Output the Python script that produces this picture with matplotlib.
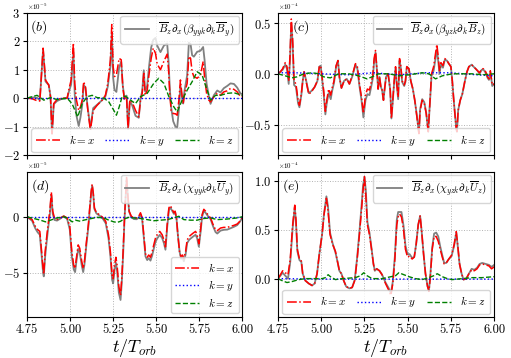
"""
Components of the turbulent transport terms vs time, four panels
"""

import matplotlib
matplotlib.use('Agg')
import matplotlib.pyplot as plt

plt.rcParams['mathtext.fontset'] = 'cm'
plt.rcParams['font.family'] = 'serif'
plt.rcParams['font.serif'] = ['cmr10', 'DejaVu Serif']
plt.rcParams['axes.formatter.use_mathtext'] = True

# ---- panel (b), units 1e-5 ----
t_b = [4.750, 4.779, 4.808, 4.824, 4.843, 4.857, 4.876, 4.886, 4.895, 4.905,
       4.924, 4.953, 4.983, 4.992, 5.006, 5.019, 5.027, 5.037, 5.050, 5.060,
       5.070, 5.079, 5.089, 5.103, 5.118, 5.134, 5.157, 5.186, 5.205, 5.219,
       5.234, 5.242, 5.250, 5.258, 5.269, 5.285, 5.297, 5.306, 5.316, 5.328,
       5.337, 5.347, 5.360, 5.380, 5.399, 5.409, 5.419, 5.428, 5.436, 5.448,
       5.457, 5.471, 5.483, 5.496, 5.506, 5.525, 5.545, 5.564, 5.572, 5.579,
       5.587, 5.599, 5.612, 5.622, 5.632, 5.641, 5.651, 5.657, 5.665, 5.680,
       5.690, 5.700, 5.709, 5.719, 5.738, 5.758, 5.773, 5.781, 5.793, 5.806,
       5.816, 5.835, 5.855, 5.874, 5.893, 5.913, 5.932, 5.952, 5.971, 5.990,
       6.000]
b_x = [0.00, -0.02, -0.09, -0.10, 1.76, 0.64, 0.46, 0.05, -1.25, -0.19,
       -0.05, 0.00, 0.00, 0.28, 0.64, 1.94, 0.52, -0.07, -0.43, -0.31,
       -0.07, 0.58, 0.40, -0.43, -1.13, -0.43, -0.25, -0.07, 0.10, 0.52,
       1.35, 2.59, 1.11, 0.76, 0.82, 1.40, 1.35, 0.40, -0.07, 0.05,
       -1.08, -0.07, -0.13, -0.43, -0.66, -0.07, 0.17, 0.87, 0.10, 0.28,
       0.76, 1.40, 1.76, 1.58, 1.20, 1.00, 1.30, 1.55, 1.00, 0.17,
       -0.43, -0.54, -0.55, -0.60, -0.07, 0.64, 0.05, -0.19, 0.17, 0.52,
       1.47, 1.40, 0.93, 0.76, 0.70, 0.82, 1.29, 0.76, 0.17, -0.07,
       -0.13, 0.05, 0.17, 0.10, 0.22, 0.26, 0.34, 0.31, 0.22, 0.05,
       0.05]
b_tot = [0.00, 0.03, 0.01, -0.07, 1.70, 0.59, 0.46, 0.07, -1.25, -0.21,
         -0.10, -0.02, 0.00, 0.21, 0.48, 1.62, 0.11, -0.62, -0.98, -0.68,
         -0.26, 0.47, 0.37, -0.37, -1.05, -0.35, -0.23, -0.07, 0.06, 0.41,
         1.12, 2.28, 0.72, 0.29, 0.22, 1.09, 1.28, 0.45, -0.01, 0.09,
         -1.08, -0.12, -0.24, -0.62, -0.69, -0.02, 0.25, 0.98, 0.23, 0.45,
         1.02, 1.78, 2.05, 2.12, 1.85, 1.62, 1.85, 1.92, 1.30, 0.37,
         -0.32, -0.81, -1.00, -1.05, -0.41, 0.44, -0.02, -0.19, 0.27, 0.80,
         1.95, 1.90, 1.51, 1.46, 1.63, 1.67, 1.80, 1.36, 0.51, 0.08,
         -0.20, 0.10, 0.27, 0.20, 0.35, 0.43, 0.52, 0.50, 0.37, 0.16,
         0.15]
t_bz = [4.750, 4.808, 4.847, 4.886, 4.924, 4.983, 5.012, 5.044, 5.070, 5.099,
        5.128, 5.157, 5.196, 5.225, 5.254, 5.269, 5.285, 5.302, 5.322, 5.351,
        5.380, 5.409, 5.448, 5.486, 5.515, 5.545, 5.574, 5.603, 5.622, 5.651,
        5.680, 5.709, 5.738, 5.767, 5.793, 5.816, 5.845, 5.874, 5.913, 5.952,
        6.000]
b_z = [0.00, 0.10, -0.07, 0.02, -0.05, 0.00, -0.20, -0.66, -0.19, 0.05,
       0.10, 0.02, 0.00, -0.13, -0.43, -0.60, -0.31, 0.05, 0.07, -0.07,
       -0.19, 0.05, 0.17, 0.52, 0.70, 0.52, 0.05, -0.31, -0.48, -0.07,
       0.28, 0.58, 0.93, 0.81, 0.34, -0.07, 0.10, 0.10, 0.17, 0.19,
       0.10]
t_by = [4.75, 5.0, 5.25, 5.5, 5.75, 6.0]
b_y = [0.0, 0.0, 0.0, 0.0, 0.0, 0.0]

# ---- panel (c), units 1e-4 ----
t_c = [4.750, 4.764, 4.777, 4.792, 4.802, 4.812, 4.819, 4.827, 4.835, 4.843,
       4.854, 4.866, 4.874, 4.885, 4.893, 4.901, 4.912, 4.928, 4.943, 4.962,
       4.978, 4.989, 4.997, 5.005, 5.014, 5.024, 5.032, 5.043, 5.055, 5.063,
       5.074, 5.086, 5.097, 5.105, 5.117, 5.132, 5.148, 5.163, 5.179, 5.198,
       5.209, 5.221, 5.233, 5.244, 5.256, 5.267, 5.279, 5.291, 5.298, 5.306,
       5.314, 5.321, 5.329, 5.337, 5.345, 5.352, 5.360, 5.368, 5.375, 5.387,
       5.399, 5.406, 5.414, 5.422, 5.430, 5.437, 5.445, 5.453, 5.460, 5.468,
       5.480, 5.487, 5.495, 5.507, 5.518, 5.530, 5.541, 5.553, 5.565, 5.572,
       5.584, 5.596, 5.607, 5.619, 5.626, 5.638, 5.650, 5.661, 5.669, 5.677,
       5.684, 5.692, 5.704, 5.715, 5.727, 5.738, 5.750, 5.758, 5.765, 5.773,
       5.781, 5.785, 5.792, 5.804, 5.816, 5.831, 5.843, 5.854, 5.870, 5.881,
       5.893, 5.904, 5.916, 5.928, 5.939, 5.951, 5.962, 5.970, 5.978, 5.989,
       6.000]
c_x = [0.00, 0.02, 0.05, 0.11, 0.07, -0.07, 0.16, 0.54, 0.33, -0.07,
       -0.10, -0.26, -0.31, -0.20, -0.07, 0.02, -0.07, -0.20, -0.18, -0.13,
       -0.07, 0.07, 0.08, -0.03, -0.16, -0.37, -0.26, -0.15, -0.21, -0.14,
       -0.07, 0.08, 0.13, -0.03, -0.14, -0.07, -0.05, -0.10, -0.02, 0.10,
       0.07, -0.10, -0.23, -0.39, -0.21, -0.15, -0.16, -0.07, -0.02, 0.15,
       0.23, 0.07, -0.15, -0.03, -0.13, -0.16, -0.26, -0.13, -0.03, 0.00,
       -0.16, -0.44, -0.26, -0.07, 0.07, -0.10, -0.23, 0.15, 0.08, -0.07,
       -0.11, -0.07, 0.07, 0.05, -0.07, -0.15, -0.26, -0.42, -0.59, -0.36,
       -0.26, -0.29, -0.39, -0.57, -0.36, 0.00, 0.07, 0.20, 0.29, 0.16,
       0.03, 0.11, 0.08, 0.15, 0.13, 0.10, 0.07, -0.07, -0.23, -0.39,
       -0.54, -0.57, -0.36, -0.26, -0.20, -0.07, 0.02, 0.07, 0.09, 0.07,
       0.05, 0.03, 0.01, 0.05, 0.05, 0.02, -0.03, -0.05, 0.03, -0.11,
       -0.10]
c_tot = [0.00, 0.02, 0.04, 0.09, 0.05, -0.10, 0.12, 0.50, 0.29, -0.11,
         -0.13, -0.29, -0.33, -0.21, -0.07, 0.02, -0.06, -0.19, -0.17, -0.13,
         -0.07, 0.07, 0.08, -0.05, -0.19, -0.40, -0.29, -0.19, -0.25, -0.17,
         -0.09, 0.07, 0.13, -0.03, -0.14, -0.07, -0.05, -0.10, -0.03, 0.09,
         0.05, -0.12, -0.26, -0.43, -0.26, -0.20, -0.21, -0.11, -0.05, 0.12,
         0.21, 0.06, -0.15, -0.03, -0.13, -0.16, -0.26, -0.13, -0.03, 0.00,
         -0.16, -0.44, -0.27, -0.08, 0.06, -0.11, -0.25, 0.13, 0.06, -0.08,
         -0.12, -0.08, 0.07, 0.05, -0.07, -0.15, -0.26, -0.41, -0.58, -0.35,
         -0.25, -0.28, -0.38, -0.57, -0.36, -0.02, 0.03, 0.15, 0.24, 0.12,
         0.00, 0.09, 0.06, 0.14, 0.13, 0.10, 0.07, -0.07, -0.23, -0.39,
         -0.54, -0.57, -0.36, -0.26, -0.20, -0.07, 0.02, 0.07, 0.09, 0.07,
         0.05, 0.03, 0.00, 0.04, 0.04, 0.01, -0.04, -0.06, 0.02, -0.12,
         -0.10]
t_cz = [4.750, 4.792, 4.831, 4.860, 4.899, 4.947, 4.986, 5.014, 5.053, 5.101,
        5.159, 5.217, 5.265, 5.294, 5.333, 5.391, 5.449, 5.507, 5.584, 5.623,
        5.661, 5.700, 5.758, 5.816, 5.873, 5.931, 6.000]
c_z = [0.00, -0.02, -0.04, -0.03, 0.00, 0.01, 0.00, -0.03, -0.04, 0.00,
       0.00, -0.02, -0.05, -0.03, 0.00, 0.00, -0.02, -0.01, 0.01, 0.00,
       -0.05, -0.02, 0.00, 0.00, 0.00, -0.01, 0.00]
t_cy = [4.75, 4.85, 5.0, 5.15, 5.3, 5.45, 5.6, 5.75, 5.9, 6.0]
c_y = [0.01, 0.01, 0.0, -0.01, 0.01, -0.01, 0.01, 0.01, -0.01, -0.02]

# ---- panel (d), units 1e-5 ----
t_d = [4.750, 4.779, 4.798, 4.812, 4.824, 4.831, 4.843, 4.847, 4.855, 4.862,
       4.872, 4.882, 4.891, 4.899, 4.909, 4.924, 4.944, 4.963, 4.983, 4.998,
       5.010, 5.021, 5.029, 5.037, 5.047, 5.056, 5.068, 5.076, 5.083, 5.095,
       5.107, 5.114, 5.122, 5.128, 5.134, 5.141, 5.153, 5.169, 5.188, 5.207,
       5.223, 5.234, 5.244, 5.250, 5.258, 5.266, 5.273, 5.283, 5.293, 5.300,
       5.308, 5.316, 5.322, 5.328, 5.335, 5.343, 5.355, 5.370, 5.386, 5.399,
       5.409, 5.419, 5.428, 5.438, 5.448, 5.457, 5.467, 5.477, 5.486, 5.496,
       5.506, 5.521, 5.535, 5.545, 5.554, 5.564, 5.574, 5.583, 5.593, 5.603,
       5.610, 5.618, 5.626, 5.636, 5.645, 5.653, 5.661, 5.671, 5.680, 5.692,
       5.703, 5.715, 5.729, 5.738, 5.748, 5.758, 5.767, 5.777, 5.787, 5.800,
       5.816, 5.831, 5.845, 5.855, 5.874, 5.893, 5.913, 5.932, 5.952, 5.971,
       5.986, 6.000]
d_x = [0.00, -0.24, -0.85, -1.15, -1.30, -2.50, -4.60, -5.10, -3.10, -2.06,
       -0.70, 0.50, 2.20, 0.50, -0.10, -0.24, -0.10, 0.06, -0.10, -0.85,
       -3.10, -4.30, -4.60, -3.60, -2.50, -2.80, -4.00, -4.60, -4.00, -2.20,
       -0.55, 0.80, 2.20, 2.90, 2.20, 0.80, 0.36, 0.20, -0.03, -0.40,
       -1.60, -3.10, -5.20, -5.50, -4.30, -3.60, -4.30, -6.20, -7.00, -5.50,
       -3.10, -0.10, 1.70, 3.50, 2.00, 0.50, 0.06, -0.10, -0.10, 0.06,
       0.36, -0.10, -1.60, -3.30, -3.60, -3.40, -3.60, -3.10, -2.50, -1.90,
       -1.60, -1.30, -1.60, -2.06, -2.67, -0.70, 0.80, 1.00, 0.67, 0.36,
       0.50, -0.10, -1.60, -3.10, -3.60, -3.40, -3.70, -3.10, -2.06, -1.75,
       -1.60, -1.45, -1.30, -1.60, -2.40, -1.15, 0.20, 0.67, 0.50, 0.20,
       -0.10, -0.70, -1.15, -1.24, -1.00, -0.94, -0.94, -0.85, -0.76, -0.64,
       -0.40, -0.10]
d_tot = [0.00, -0.35, -1.04, -1.39, -1.59, -2.82, -4.98, -5.30, -3.54, -2.47,
         -1.07, 0.18, 1.93, 0.27, -0.28, -0.34, -0.15, 0.06, -0.20, -1.13,
         -3.53, -4.68, -4.92, -3.92, -2.85, -3.19, -4.36, -4.92, -4.29, -2.45,
         -0.76, 0.62, 2.04, 2.76, 2.08, 0.70, 0.30, 0.13, -0.12, -0.58,
         -1.89, -3.45, -5.60, -5.93, -4.76, -4.08, -4.80, -6.72, -7.40, -5.91,
         -3.37, -0.28, 1.55, 3.38, 1.92, 0.45, -0.01, -0.20, -0.22, -0.08,
         0.21, -0.28, -1.80, -3.53, -3.85, -3.68, -3.90, -3.43, -2.85, -2.24,
         -1.93, -1.60, -1.89, -2.34, -2.93, -0.95, 0.59, 0.82, 0.53, 0.26,
         0.44, -0.12, -1.59, -3.10, -3.73, -3.60, -3.95, -3.36, -2.34, -2.04,
         -1.90, -1.75, -1.60, -1.90, -2.66, -1.38, 0.01, 0.52, 0.36, 0.08,
         -0.20, -0.86, -1.36, -1.49, -1.23, -1.16, -1.14, -1.02, -0.89, -0.74,
         -0.45, -0.10]
t_dz = [4.750, 4.789, 4.828, 4.857, 4.886, 4.924, 4.963, 4.983, 5.012, 5.031,
        5.060, 5.079, 5.109, 5.157, 5.196, 5.225, 5.254, 5.273, 5.293, 5.312,
        5.341, 5.370, 5.409, 5.448, 5.486, 5.525, 5.564, 5.603, 5.632, 5.661,
        5.700, 5.738, 5.777, 5.816, 5.855, 5.913, 5.971, 6.000]
d_z = [0.00, -0.15, -0.30, -0.45, -0.30, -0.10, 0.00, -0.10, -0.45, -0.30,
       -0.40, -0.30, -0.20, -0.05, -0.10, -0.30, -0.45, -0.50, -0.40, -0.20,
       -0.05, -0.10, -0.15, -0.25, -0.35, -0.30, -0.25, -0.10, 0.05, -0.25,
       -0.30, -0.30, -0.15, -0.10, -0.25, -0.20, -0.10, 0.00]
t_dy = [4.75, 5.0, 5.25, 5.5, 5.75, 6.0]
d_y = [0.0, 0.0, 0.0, 0.0, 0.0, 0.0]

# ---- panel (e), units 1e-4 ----
t_e = [4.750, 4.764, 4.777, 4.792, 4.808, 4.821, 4.835, 4.847, 4.854, 4.862,
       4.874, 4.885, 4.893, 4.908, 4.928, 4.947, 4.962, 4.976, 4.989, 5.005,
       5.016, 5.030, 5.039, 5.051, 5.066, 5.082, 5.097, 5.105, 5.117, 5.130,
       5.144, 5.163, 5.179, 5.194, 5.208, 5.221, 5.233, 5.242, 5.250, 5.258,
       5.267, 5.279, 5.291, 5.302, 5.310, 5.321, 5.337, 5.352, 5.372, 5.391,
       5.403, 5.414, 5.426, 5.437, 5.445, 5.453, 5.464, 5.476, 5.487, 5.499,
       5.511, 5.526, 5.538, 5.549, 5.561, 5.572, 5.580, 5.592, 5.603, 5.615,
       5.623, 5.630, 5.642, 5.653, 5.665, 5.677, 5.688, 5.700, 5.711, 5.723,
       5.738, 5.754, 5.769, 5.781, 5.789, 5.800, 5.812, 5.823, 5.839, 5.854,
       5.870, 5.885, 5.901, 5.916, 5.931, 5.951, 5.970, 5.985, 6.000]
e_x = [0.00, 0.04, 0.08, 0.06, 0.04, 0.20, 0.55, 0.75, 0.60, 0.30,
       0.20, 0.18, 0.05, -0.02, -0.05, -0.07, -0.05, 0.05, 0.25, 0.45,
       0.65, 0.82, 0.70, 0.45, 0.35, 0.28, 0.15, 0.08, 0.05, -0.02,
       -0.08, -0.10, -0.09, -0.02, 0.20, 0.45, 0.70, 0.90, 1.04, 0.85,
       0.55, 0.45, 0.30, 0.15, 0.08, 0.10, 0.08, 0.04, -0.05, -0.12,
       -0.17, -0.05, 0.20, 0.55, 0.63, 0.66, 0.63, 0.50, 0.30, 0.22,
       0.23, 0.20, 0.22, 0.35, 0.55, 0.64, 0.50, 0.25, 0.05, -0.08,
       -0.13, 0.00, 0.30, 0.43, 0.43, 0.38, 0.30, 0.22, 0.15, 0.16,
       0.20, 0.24, 0.35, 0.48, 0.35, 0.15, 0.05, -0.01, 0.00, 0.05,
       0.09, 0.08, 0.10, 0.14, 0.15, 0.14, 0.13, 0.10, 0.12]
e_tot = [0.00, 0.03, 0.06, 0.03, 0.00, 0.17, 0.52, 0.73, 0.58, 0.28,
         0.19, 0.17, 0.05, -0.02, -0.05, -0.07, -0.05, 0.05, 0.25, 0.45,
         0.66, 0.84, 0.74, 0.47, 0.36, 0.27, 0.15, 0.08, 0.05, -0.02,
         -0.08, -0.10, -0.09, -0.01, 0.22, 0.48, 0.74, 0.95, 1.04, 0.90,
         0.58, 0.47, 0.31, 0.15, 0.08, 0.10, 0.08, 0.04, -0.04, -0.10,
         -0.15, -0.03, 0.23, 0.60, 0.68, 0.68, 0.68, 0.54, 0.34, 0.25,
         0.25, 0.21, 0.22, 0.35, 0.55, 0.64, 0.50, 0.25, 0.05, -0.08,
         -0.12, 0.01, 0.32, 0.46, 0.47, 0.43, 0.33, 0.24, 0.16, 0.16,
         0.20, 0.23, 0.34, 0.47, 0.34, 0.15, 0.05, -0.01, 0.00, 0.05,
         0.10, 0.09, 0.11, 0.15, 0.16, 0.15, 0.14, 0.12, 0.14]
t_ez = [4.750, 4.773, 4.802, 4.831, 4.870, 4.908, 5.005, 5.024, 5.040, 5.053,
        5.082, 5.121, 5.198, 5.227, 5.246, 5.265, 5.294, 5.352, 5.430, 5.449,
        5.478, 5.507, 5.545, 5.584, 5.623, 5.651, 5.671, 5.700, 5.729, 5.758,
        5.816, 5.873, 5.931, 6.000]
e_z = [0.00, -0.02, -0.04, -0.03, -0.01, 0.00, 0.00, 0.01, 0.04, 0.02,
       -0.01, 0.00, 0.01, 0.03, 0.06, 0.03, 0.00, 0.00, 0.03, 0.06,
       0.04, 0.02, 0.00, -0.01, 0.01, 0.03, 0.05, 0.02, 0.00, -0.01,
       0.00, 0.01, 0.01, 0.02]
t_ey = [4.75, 5.0, 5.25, 5.5, 5.75, 6.0]
e_y = [0.0, -0.005, -0.005, -0.005, -0.005, -0.005]

xticks = [4.75, 5.00, 5.25, 5.50, 5.75, 6.00]
xticklabels = ['4.75', '5.00', '5.25', '5.50', '5.75', '6.00']

panels = [
    dict(rect=[0.053, 0.567, 0.421, 0.397], tag='(b)', tagx=0.015, expo='-5',
         ylim=(-2, 3), yticks=[-2, -1, 0, 1, 2, 3],
         yticklabels=['$-2$', '$-1$', '$0$', '$1$', '$2$', '$3$'],
         t=t_b, x=b_x, tot=b_tot, tz=t_bz, z=b_z, ty=t_by, y=b_y,
         label=r'$\overline{B}_z\partial_x(\beta_{yyk}\partial_k\overline{B}_y)$',
         low='row', bottom=False),
    dict(rect=[0.544, 0.567, 0.423, 0.397], tag='(c)', tagx=0.065, expo='-4',
         ylim=(-0.8, 0.6), yticks=[-0.5, 0.0, 0.5],
         yticklabels=['$-0.5$', '$0.0$', '$0.5$'],
         t=t_c, x=c_x, tot=c_tot, tz=t_cz, z=c_z, ty=t_cy, y=c_y,
         label=r'$\overline{B}_z\partial_x(\beta_{yzk}\partial_k\overline{B}_z)$',
         low='row', bottom=False),
    dict(rect=[0.053, 0.115, 0.421, 0.405], tag='(d)', tagx=0.02, expo='-5',
         ylim=(-8.9, 4.0), yticks=[-5, 0],
         yticklabels=['$-5$', '$0$'],
         t=t_d, x=d_x, tot=d_tot, tz=t_dz, z=d_z, ty=t_dy, y=d_y,
         label=r'$\overline{B}_z\partial_x(\chi_{yyk}\partial_k\overline{U}_y)$',
         low='col', bottom=True),
    dict(rect=[0.544, 0.115, 0.423, 0.405], tag='(e)', tagx=0.02, expo='-4',
         ylim=(-0.39, 1.09), yticks=[0.0, 0.5, 1.0],
         yticklabels=['$0.0$', '$0.5$', '$1.0$'],
         t=t_e, x=e_x, tot=e_tot, tz=t_ez, z=e_z, ty=t_ey, y=e_y,
         label=r'$\overline{B}_z\partial_x(\chi_{yzk}\partial_k\overline{U}_z)$',
         low='row', bottom=True),
]

fig = plt.figure(figsize=(5.11, 3.58), dpi=100)

for p in panels:
    ax = fig.add_axes(p['rect'])
    ax.grid(True, ls=':', color='0.7', lw=0.7)
    ax.set_axisbelow(True)

    g, = ax.plot(p['t'], p['tot'], color='gray', lw=1.3)
    r, = ax.plot(p['t'], p['x'], color='red', ls='-.', lw=1.1)
    b, = ax.plot(p['ty'], p['y'], color='blue', ls=':', lw=1.0)
    gr, = ax.plot(p['tz'], p['z'], color='green', ls='--', lw=1.0)

    leg1 = ax.legend([g], [p['label']], loc='upper right', fontsize=8,
                     handlelength=2.2, borderaxespad=0.3)
    ax.add_artist(leg1)
    labs = ['$k=x$', '$k=y$', '$k=z$']
    if p['low'] == 'row':
        ax.legend([r, b, gr], labs, loc='lower left', ncol=3, mode='expand',
                  bbox_to_anchor=(0.02, 0.02, 0.96, 0.2), fontsize=8,
                  handlelength=2.2, borderaxespad=0.0)
    else:
        ax.legend([r, b, gr], labs, loc='lower right', fontsize=8,
                  handlelength=2.2, borderaxespad=0.3, labelspacing=0.3)

    ax.text(p['tagx'], 0.96, '$' + p['tag'] + '$', transform=ax.transAxes,
            fontsize=10, va='top', ha='left')
    ax.text(0.0, 1.005, r'$\times10^{' + p['expo'] + '}$', transform=ax.transAxes,
            fontsize=5, va='bottom', ha='left')

    ax.set_xlim(4.75, 6.0)
    ax.set_ylim(*p['ylim'])
    ax.set_yticks(p['yticks'])
    ax.set_yticklabels(p['yticklabels'], fontsize=9)
    ax.set_xticks(xticks)
    if p['bottom']:
        ax.set_xticklabels(xticklabels, fontsize=9)
        ax.set_xlabel(r'$t/T_{orb}$', fontsize=13, labelpad=1)
    else:
        ax.set_xticklabels([])
    ax.tick_params(length=3, pad=2)

plt.savefig('out.png', dpi=100)
